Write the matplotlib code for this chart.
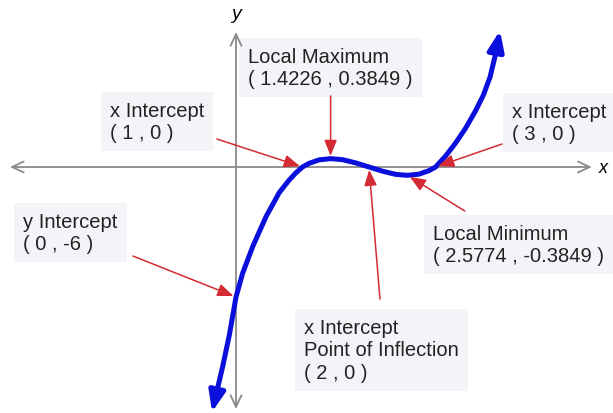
import matplotlib
matplotlib.use("Agg")
import matplotlib.pyplot as plt

plt.rcParams['font.family'] = ['Liberation Sans', 'DejaVu Sans']

# curve y = (x-1)(x-2)(x-3)
curve_x = [-0.33, -0.2, -0.1, 0.0, 0.1, 0.25, 0.45, 0.65, 0.8, 0.9, 1.0, 1.1, 1.25, 1.4226,
           1.6, 1.8, 2.0, 2.2, 2.4, 2.5774, 2.75, 2.9, 3.0, 3.15, 3.3, 3.45, 3.6, 3.72, 3.82, 3.9]
curve_y = [-10.9, -9.2, -7.75, -6.0, -4.9, -3.68, -2.3, -1.18, -0.6, -0.27, 0.0, 0.17, 0.33, 0.3849,
           0.34, 0.19, 0.0, -0.19, -0.34, -0.3849, -0.33, -0.17, 0.0, 0.5, 1.1, 1.78, 2.58, 3.32, 4.15, 5.17]
tip_top = (3.97, 6.3)
tip_bottom = (-0.36, -11.3)

# annotated points and their labels
point_x = [1.0, 1.4226, 3.0, 2.5774, 2.0, 0.0]
point_y = [0.0, 0.3849, 0.0, -0.3849, 0.0, -6.0]
labels = ["x Intercept\n( 1 , 0 )",
          "Local Maximum\n( 1.4226 , 0.3849 )",
          "x Intercept\n( 3 , 0 )",
          "Local Minimum\n( 2.5774 , -0.3849 )",
          "x Intercept\nPoint of Inflection\n( 2 , 0 )",
          "y Intercept\n( 0 , -6 )"]

# where each label sits and where its arrow starts
label_pos = [(-1.895, 3.05), (0.18, 5.54), (4.15, 3.0), (2.96, -2.63), (1.02, -6.97), (-3.20, -2.08)]
arrow_start = [(-0.286, 1.29), (1.4226, 3.28), (4.0, 1.06), (3.44, -2.03), (2.165, -6.09), (-1.549, -4.11)]

blue = '#0a0fdc'
red = '#d42a34'
grey = '#8a8a8a'

fig = plt.figure(figsize=(6.13, 4.14), dpi=100)
ax = fig.add_axes([0, 0, 1, 1])
ax.set_xlim(-3.549, 5.669)
ax.set_ylim(-11.352, 7.753)
ax.axis('off')

# axes with open arrowheads
ax.annotate('', xy=(5.35, 0), xytext=(-3.40, 0),
            arrowprops=dict(arrowstyle='<->, head_length=0.6, head_width=0.28', color=grey, lw=1.3,
                            mutation_scale=14, shrinkA=0, shrinkB=0))
ax.annotate('', xy=(0, 6.23), xytext=(0, -11.17),
            arrowprops=dict(arrowstyle='<->, head_length=0.6, head_width=0.28', color=grey, lw=1.3,
                            mutation_scale=14, shrinkA=0, shrinkB=0))
ax.text(5.46, 0, 'x', style='italic', fontsize=13, ha='left', va='center')
ax.text(0, 7.1, 'y', style='italic', fontsize=14, ha='center', va='center')

# the curve
ax.plot(curve_x, curve_y, color=blue, lw=3.6, solid_capstyle='butt', solid_joinstyle='round', zorder=3)
ax.annotate('', xy=tip_top, xytext=(curve_x[-1], curve_y[-1]),
            arrowprops=dict(arrowstyle='-|>, head_length=1.0, head_width=0.4', color=blue, lw=3.6,
                            mutation_scale=12, shrinkA=0, shrinkB=0), zorder=3)
ax.annotate('', xy=tip_bottom, xytext=(curve_x[0], curve_y[0]),
            arrowprops=dict(arrowstyle='-|>, head_length=1.0, head_width=0.4', color=blue, lw=3.6,
                            mutation_scale=12, shrinkA=0, shrinkB=0), zorder=3)

# labels and red pointers
for px, py, lab, pos, start in zip(point_x, point_y, labels, label_pos, arrow_start):
    ax.text(pos[0], pos[1], lab, fontsize=14.5, ha='left', va='top', color='#222222', linespacing=1.22,
            bbox=dict(boxstyle='square,pad=0.45', fc='#f3f4f8', ec='none'), zorder=1)
    ax.annotate('', xy=(px, py), xytext=start,
                arrowprops=dict(arrowstyle='-|>, head_length=0.8, head_width=0.32', color=red, lw=1.1,
                                mutation_scale=12, shrinkA=0, shrinkB=2), zorder=4)

fig.savefig('out.png', dpi=100)
